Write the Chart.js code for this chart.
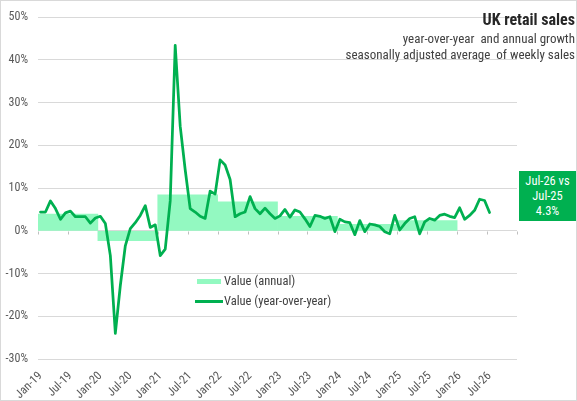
<!DOCTYPE html>
<html>
<head>
<meta charset="utf-8">
<title>UK retail sales</title>
<script src="https://cdn.jsdelivr.net/npm/chart.js@4.4.1/dist/chart.umd.min.js"></script>
<style>
  body { margin: 0; background: #fff; }
  #wrap { position: relative; width: 577px; height: 401px; overflow: hidden;
          font-family: 'Liberation Sans Narrow', 'Arial Narrow', 'Roboto Condensed', sans-serif; color: #404040; }
  #frame { position: absolute; left: 0; top: 0; width: 577px; height: 401px; box-sizing: border-box;
           border: 1px solid #d9d9d9; pointer-events: none; }
  .title { position: absolute; right: 2px; top: 10px; font-size: 16px; font-weight: bold; color: #262626; }
  .sub { position: absolute; right: 2px; font-size: 13px; white-space: pre; color: #404040; }
  #box { position: absolute; left: 519px; top: 171px; width: 57px; height: 50px; background: #00b050;
         color: #fff; font-size: 12.5px; line-height: 15px; text-align: center; padding-top: 2px; box-sizing: border-box; }
  .leg { position: absolute; font-size: 12.5px; color: #404040; white-space: nowrap; }
</style>
</head>
<body>
<div id="wrap">
  <canvas id="myChart" width="577" height="401"></canvas>
  <div class="title">UK retail sales</div>
  <div class="sub" style="top:31px">year-over-year  and annual growth</div>
  <div class="sub" style="top:47px">seasonally adjusted average  of weekly sales</div>
  <div id="box"></div>
  <div id="legend"></div>
  <div id="frame"></div>
</div>
<script>
// categories
var years = ['2019', '2020', '2021', '2022', '2023', '2024', '2025', '2026'];
var monthNames = ['Jan', 'Feb', 'Mar', 'Apr', 'May', 'Jun', 'Jul', 'Aug', 'Sep', 'Oct', 'Nov', 'Dec'];

// annual growth, %
var annualGrowth = [3.9, -2.3, 8.4, 6.8, 3.4, 1.5, 2.4];

// year-over-year growth, %, Jan-19 .. Jul-26
var yoyGrowth = [
    4.4, 4.4, 7.0, 5.2, 2.7, 4.2, 4.6, 3.3, 3.3, 3.3, 1.8, 3.0,
    3.4, 1.7, -5.8, -24.0, -12.8, -3.5, 0.5, 1.9, 3.6, 5.9, 0.8, 1.4,
    -5.8, -4.3, 7.0, 43.4, 24.5, 14.3, 5.2, 4.4, 3.4, 2.9, 9.3, 8.6,
    16.6, 15.4, 12.0, 3.3, 4.0, 4.4, 8.0, 5.2, 4.0, 5.3, 4.0, 2.9,
    3.5, 5.0, 3.2, 4.9, 4.4, 2.8, 1.0, 3.6, 3.4, 2.9, 3.3, -0.2,
    2.7, 2.1, 1.9, -0.9, 2.4, -0.2, 1.6, 1.4, 1.0, -0.2, -0.7, 3.6,
    0.2, 1.7, 2.9, 3.3, -0.7, 2.1, 2.9, 2.5, 3.6, 3.9, 3.4, 3.1,
    5.4, 2.7, 3.6, 4.8, 7.4, 7.1, 4.3
];

// y axis ticks, %
var yMin = -30, yMax = 50, yStep = 10;

var mint = '#93f9c1';
var green = '#00b050';
var axisText = '#595959';

// month labels Jan-19 .. Dec-26
var months = [];
years.forEach(function(y) {
    monthNames.forEach(function(m) { months.push(m + '-' + y.slice(2)); });
});

Chart.defaults.font.family = "'Liberation Sans Narrow', 'Arial Narrow', 'Roboto Condensed', sans-serif";
Chart.defaults.font.size = 12;
Chart.defaults.color = axisText;

// small tick marks hanging from the 0% line every 6 months
var zeroTicks = {
    id: 'zeroTicks',
    beforeDatasetsDraw: function(chart) {
        var x = chart.scales.x, y = chart.scales.y, ctx = chart.ctx;
        var y0 = Math.round(y.getPixelForValue(0)) + 0.5;
        var half = (x.getPixelForValue(1) - x.getPixelForValue(0)) / 2;
        ctx.save();
        ctx.strokeStyle = '#bfbfbf';
        ctx.lineWidth = 1;
        for (var i = 0; i <= months.length; i += 6) {
            var px = Math.round(x.getPixelForValue(Math.min(i, months.length - 1)) + (i === months.length ? half : -half)) + 0.5;
            ctx.beginPath();
            ctx.moveTo(px, y0);
            ctx.lineTo(px, y0 + 3);
            ctx.stroke();
        }
        ctx.restore();
    }
};

var ctx = document.getElementById('myChart').getContext('2d');
var myChart = new Chart(ctx, {
    type: 'bar',
    data: {
        labels: months,
        datasets: [{
            type: 'bar',
            label: 'Value (annual)',
            data: annualGrowth,
            xAxisID: 'xYear',
            backgroundColor: mint,
            borderWidth: 0,
            grouped: false,
            barPercentage: 1,
            categoryPercentage: 1,
            order: 2
        }, {
            type: 'line',
            label: 'Value (year-over-year)',
            data: yoyGrowth,
            xAxisID: 'x',
            borderColor: green,
            backgroundColor: green,
            borderWidth: 2.75,
            borderJoinStyle: 'round',
            borderCapStyle: 'round',
            pointRadius: 0,
            tension: 0,
            order: 1
        }]
    },
    options: {
        responsive: false,
        animation: false,
        layout: { padding: { left: 0, right: 60, top: 8, bottom: 0 } },
        plugins: {
            legend: { display: false },
            tooltip: { enabled: false }
        },
        scales: {
            x: {
                type: 'category',
                offset: true,
                grid: { display: false, drawTicks: false },
                border: { display: false },
                ticks: {
                    autoSkip: false,
                    minRotation: 45,
                    maxRotation: 45,
                    padding: 10,
                    callback: function(v, i) { return i % 6 === 0 ? this.getLabelForValue(v) : ''; }
                },
                afterFit: function(scale) { scale.height = 42; }
            },
            xYear: {
                type: 'category',
                labels: years,
                offset: true,
                display: false,
                grid: { display: false }
            },
            y: {
                min: yMin,
                max: yMax,
                grid: { color: '#d9d9d9', drawTicks: false },
                border: { display: false },
                ticks: {
                    stepSize: yStep,
                    padding: 10,
                    callback: function(v) { return v + '%'; }
                },
                afterFit: function(scale) { scale.width = 38; }
            }
        }
    },
    plugins: [zeroTicks]
});

// call-out box from the last value
var last = yoyGrowth.length - 1;
document.getElementById('box').innerHTML =
    months[last] + ' vs<br>' + months[last - 12] + '<br>' + yoyGrowth[last].toFixed(1) + '%';

// legend inside the plot
var legend = document.getElementById('legend');
var ds = myChart.data.datasets;
legend.innerHTML =
    '<div class="leg" style="left:197px;top:279px;width:24px;height:5px;background:' + ds[0].backgroundColor + '"></div>' +
    '<div class="leg" style="left:224px;top:273px">' + ds[0].label + '</div>' +
    '<div class="leg" style="left:195px;top:300px;width:28px;height:3px;background:' + ds[1].borderColor + '"></div>' +
    '<div class="leg" style="left:224px;top:293px">' + ds[1].label + '</div>';
</script>
</body>
</html>
